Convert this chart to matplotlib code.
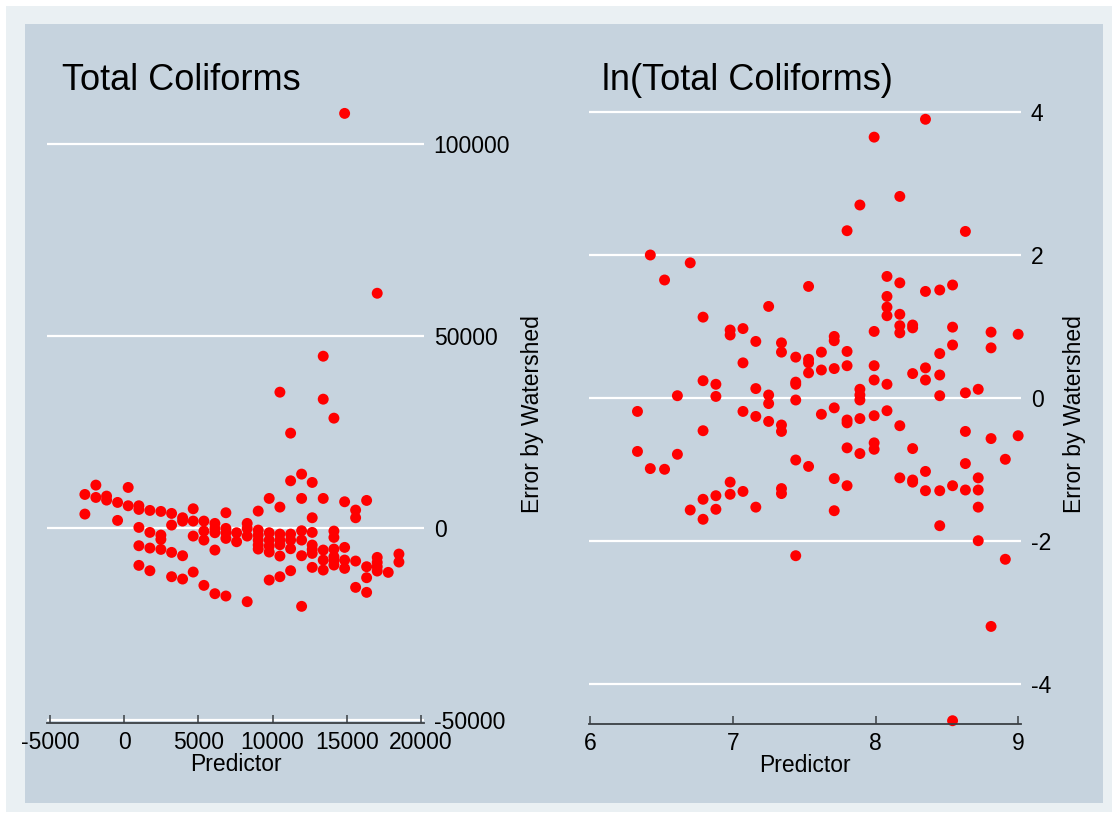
import matplotlib
matplotlib.use("Agg")
import matplotlib.pyplot as plt
from matplotlib.patches import Rectangle

plt.rcParams['font.family'] = ['Liberation Sans', 'DejaVu Sans']
plt.rcParams['axes.unicode_minus'] = False

# Residuals from the untransformed model: predictor vs. error by watershed
raw_pred = [
    -2648, -2648,
    -1907, -1907,
    -1186, -1186,
    -445, -445,
    270, 270,
    991, 991, 991, 991, 991,
    1732, 1732, 1732, 1732,
    2473, 2473, 2473, 2473,
    3194, 3194, 3194, 3194,
    3935, 3935, 3935, 3935,
    4650, 4650, 4650, 4650,
    5371, 5371, 5371, 5371,
    6112, 6112, 6112, 6112, 6112,
    6853, 6853, 6853, 6853, 6853,
    7574, 7574,
    8288, 8288, 8288, 8288,
    9030, 9030, 9030, 9030, 9030, 9030,
    9771, 9771, 9771, 9771, 9771, 9771,
    10492, 10492, 10492, 10492, 10492, 10492, 10492,
    11213, 11213, 11213, 11213, 11213, 11213,
    11954, 11954, 11954, 11954, 11954, 11954,
    12668, 12668, 12668, 12668, 12668, 12668, 12668,
    13410, 13410, 13410, 13410, 13410, 13410,
    14131, 14131, 14131, 14131, 14131, 14131, 14131,
    14852, 14852, 14852, 14852, 14852,
    15593, 15593, 15593, 15593,
    16334, 16334, 16334, 16334,
    17048, 17048, 17048, 17048, 17048,
    17790,
    18511, 18511,
]
raw_err = [
    8767, 3646,
    11198, 7986,
    8333, 7292,
    6684, 1997,
    10590, 5816,
    5816, 4861, 174, -4601, -9722,
    4601, -1128, -5208, -11111,
    4340, -1823, -2951, -5556,
    3819, 781, -6337, -12674,
    2691, 1823, -7205, -13281,
    5035, 1823, -2083, -11458,
    1823, -781, -3125, -14931,
    1215, -87, -1215, -5729, -17101,
    3993, -87, -1215, -2691, -17708,
    -1215, -3559,
    1215, -87, -2083, -19184,
    4427, -521, -1823, -3125, -4427, -5469,
    7726, -1215, -3125, -4688, -6250, -13542,
    35417, 5469, -1563, -3125, -4340, -7292, -12674,
    24740, 12326, -1563, -3125, -5382, -11111,
    14063, 7726, -694, -3125, -7205, -20399,
    11892, 2691, -1128, -4427, -5556, -6597, -10243,
    44792, 33594, 7726, -5729, -8333, -10938,
    28646, -781, -2431, -5469, -7465, -8507, -9635,
    108073, 6858, -5035, -8333, -10503,
    4688, 2691, -8594, -15451,
    7205, -10069, -12934, -16753,
    61198, -7639, -8941, -10069, -11198,
    -11545,
    -6771, -8854,
]

# Residuals from the log-transformed model
log_pred = [
    6.33, 6.33,
    6.42, 6.42,
    6.52, 6.52,
    6.61, 6.61,
    6.70, 6.70,
    6.79, 6.79, 6.79, 6.79, 6.79,
    6.88, 6.88, 6.88, 6.88,
    6.98, 6.98, 6.98, 6.98,
    7.07, 7.07, 7.07, 7.07,
    7.16, 7.16, 7.16, 7.16,
    7.25, 7.25, 7.25, 7.25,
    7.34, 7.34, 7.34, 7.34, 7.34, 7.34,
    7.44, 7.44, 7.44, 7.44, 7.44, 7.44,
    7.53, 7.53, 7.53, 7.53, 7.53,
    7.62, 7.62, 7.62,
    7.71, 7.71, 7.71, 7.71, 7.71, 7.71,
    7.80, 7.80, 7.80, 7.80, 7.80, 7.80, 7.80,
    7.89, 7.89, 7.89, 7.89, 7.89, 7.89,
    7.99, 7.99, 7.99, 7.99, 7.99, 7.99, 7.99,
    8.08, 8.08, 8.08, 8.08, 8.08, 8.08,
    8.17, 8.17, 8.17, 8.17, 8.17, 8.17, 8.17,
    8.26, 8.26, 8.26, 8.26, 8.26, 8.26,
    8.35, 8.35, 8.35, 8.35, 8.35, 8.35,
    8.45, 8.45, 8.45, 8.45, 8.45, 8.45,
    8.54, 8.54, 8.54, 8.54, 8.54,
    8.63, 8.63, 8.63, 8.63, 8.63,
    8.72, 8.72, 8.72, 8.72, 8.72,
    8.81, 8.81, 8.81, 8.81,
    8.91, 8.91,
    9.00, 9.00,
]
log_err = [
    -0.19, -0.75,
    2.00, -0.99,
    1.65, -1.00,
    0.03, -0.79,
    1.89, -1.57,
    1.13, 0.24, -0.46, -1.42, -1.70,
    0.19, 0.02, -1.37, -1.56,
    0.95, 0.88, -1.18, -1.35,
    0.97, 0.49, -0.19, -1.31,
    0.79, 0.13, -0.26, -1.53,
    1.28, 0.04, -0.08, -0.33,
    0.77, 0.64, -0.38, -0.47, -1.27, -1.34,
    0.57, 0.22, 0.19, -0.03, -0.87, -2.21,
    1.56, 0.54, 0.49, 0.35, -0.96,
    0.64, 0.39, -0.23,
    0.86, 0.80, 0.41, -0.14, -1.13, -1.58,
    2.34, 0.65, 0.45, -0.31, -0.35, -0.70, -1.23,
    2.70, 0.12, 0.04, -0.03, -0.29, -0.78,
    3.65, 0.93, 0.45, 0.25, -0.25, -0.63, -0.72,
    1.70, 1.42, 1.27, 1.15, 0.19, -0.18,
    2.82, 1.61, 1.17, 1.01, 0.91, -0.39, -1.12,
    1.02, 0.98, 0.34, -0.71, -1.15, -1.18,
    3.90, 1.49, 0.42, 0.25, -1.03, -1.30,
    1.51, 0.62, 0.32, 0.03, -1.30, -1.79,
    1.58, 0.99, 0.74, -1.23, -4.52,
    2.33, 0.07, -0.47, -0.92, -1.29,
    0.12, -1.12, -1.29, -1.53, -2.00,
    0.92, 0.70, -0.57, -3.20,
    -0.86, -2.26,
    0.89, -0.53,
]

raw_xticks = [-5000, 0, 5000, 10000, 15000, 20000]
raw_yticks = [-50000, 0, 50000, 100000]
log_xticks = [6, 7, 8, 9]
log_yticks = [-4, -2, 0, 2, 4]

titles = ["Total Coliforms", "ln(Total Coliforms)"]
x_label = "Predictor"
y_label = "Error by Watershed"

W, H = 1114, 815
OUTER = "#eaf0f3"
PANEL = "#c6d3de"
AXIS = "#3a3f44"
FS = 16.5

fig = plt.figure(figsize=(W / 100, H / 100), dpi=100)
fig.patch.set_facecolor("white")


def px_box(x0, y0, x1, y1):
    return [x0 / W, 1 - y1 / H, (x1 - x0) / W, (y1 - y0) / H]


def add_rect(x0, y0, x1, y1, color):
    l, b, w, h = px_box(x0, y0, x1, y1)
    fig.patches.append(Rectangle((l, b), w, h, transform=fig.transFigure,
                                 facecolor=color, edgecolor="none", zorder=-10))


add_rect(6, 6, 1112, 812, OUTER)
add_rect(25, 24, 1103, 803, PANEL)


def make_panel(box, xs, ys, xlim, ylim, xticks, yticks, title, title_x, ylabel_x):
    ax = fig.add_axes(px_box(*box))
    ax.set_facecolor("none")
    ax.set_xlim(*xlim)
    ax.set_ylim(*ylim)
    for v in yticks:
        ax.axhline(v, color="white", lw=1.6, zorder=1)
    ax.scatter(xs, ys, s=62, color="#ff0000", edgecolors="none", zorder=3,
               clip_on=False)
    for side in ("top", "left", "right"):
        ax.spines[side].set_visible(False)
    ax.spines["bottom"].set_color(AXIS)
    ax.spines["bottom"].set_linewidth(1.3)
    ax.spines["bottom"].set_zorder(4)
    ax.set_xticks(xticks)
    ax.set_xticklabels([str(t) for t in xticks])
    ax.set_yticks(yticks)
    ax.set_yticklabels([str(t) for t in yticks])
    ax.yaxis.tick_right()
    ax.yaxis.set_label_position("right")
    ax.tick_params(axis="x", direction="in", length=6, width=1.1, color=AXIS,
                   labelsize=FS, pad=6, labelcolor="black")
    ax.tick_params(axis="y", length=0, labelsize=FS, pad=7, labelcolor="black")
    for lab in ax.get_yticklabels():
        lab.set_horizontalalignment("left")
    ax.set_xlabel(x_label, fontsize=FS, labelpad=-1)
    ax.set_ylabel(y_label, fontsize=FS)
    ax.yaxis.set_label_coords(ylabel_x, 0.5)
    fig.text(title_x / W, 1 - 90 / H, title, fontsize=26, ha="left",
             va="baseline")
    return ax


make_panel((47, 106, 424, 723), raw_pred, raw_err, (-5200, 20200),
           (-50800, 110000), raw_xticks, raw_yticks, titles[0], 62, 1.257)
make_panel((589, 105, 1021, 724), log_pred, log_err, (5.99, 9.02),
           (-4.566, 4.1), log_xticks, log_yticks, titles[1], 602, 1.097)

fig.savefig("out.png", dpi=100, facecolor=fig.get_facecolor())
